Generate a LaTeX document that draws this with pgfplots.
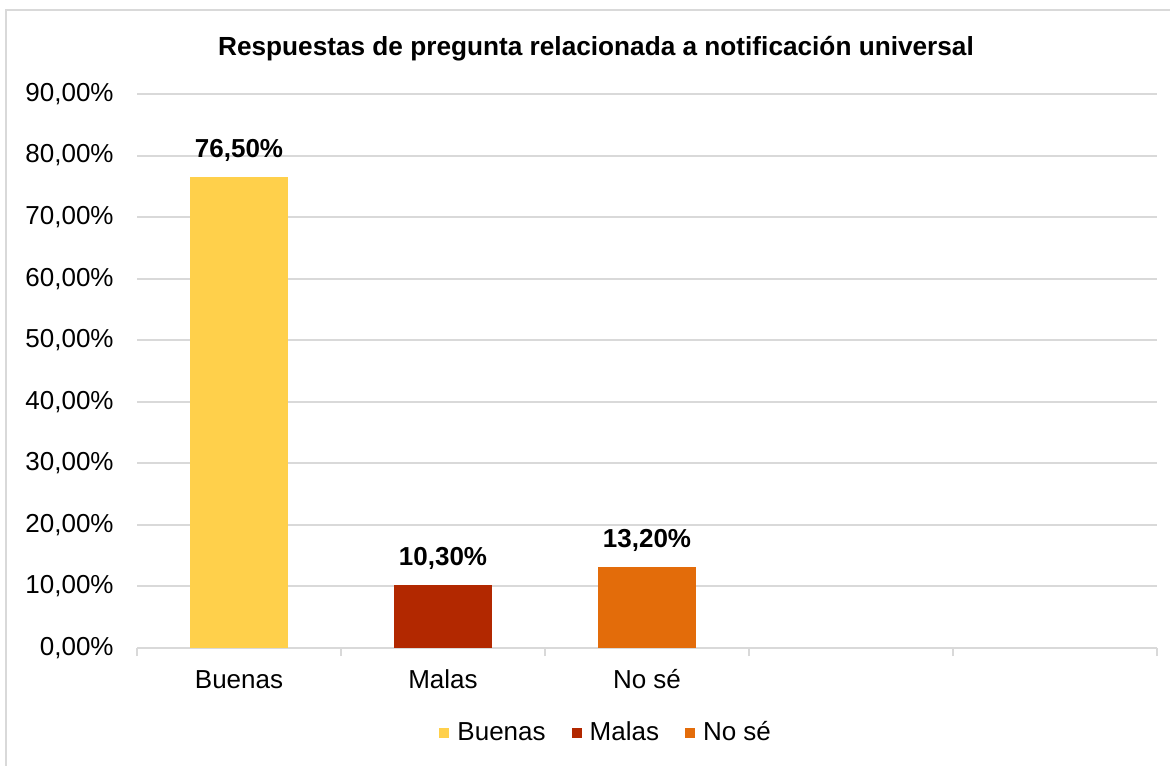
\documentclass[border=0pt]{standalone}
\usepackage{pgfplots}
\pgfplotsset{compat=1.18}
\usepackage{fontspec}
\setmainfont{Liberation Sans}
\definecolor{cB}{RGB}{255,208,75}
\definecolor{cM}{RGB}{178,40,0}
\definecolor{cN}{RGB}{227,108,10}
\definecolor{gr}{RGB}{217,217,217}
\begin{document}
\begin{tikzpicture}[font=\fontsize{13}{15.6}\selectfont]
\useasboundingbox (0,0) rectangle (585pt,-382.5pt);
\draw[gr, line width=1pt] (3pt,-400pt) -- (3pt,-5pt) -- (600pt,-5pt);
\node[font=\fontsize{13.1}{15.6}\selectfont\bfseries] at (298pt,-24.5pt) {Respuestas de pregunta relacionada a notificación universal};
\begin{axis}[
  at={(68.5pt,-324pt)}, anchor=south west,
  scale only axis, width=510pt, height=277pt,
  ybar, bar width=49pt, bar shift=0pt,
  xmin=-0.5, xmax=4.5, ymin=0, ymax=90,
  ytick={0,10,...,90},
  ymajorgrids, grid style={gr, line width=1pt},
  separate axis lines,
  axis x line*=bottom, axis y line*=left,
  x axis line style={draw=gr, line width=1pt, -},
  y axis line style={draw=none},
  xtick={-0.5,0.5,1.5,2.5,3.5,4.5}, xticklabels={},
  xtick style={draw=gr, line width=1pt},
  tick align=outside, major tick length=4pt,
  ytick style={draw=none},
  extra x ticks={0,1,2},
  extra x tick labels={Buenas,Malas,No sé},
  extra x tick style={major tick length=0pt, xticklabel style={anchor=base, inner sep=0pt, yshift=-20pt}},
  /pgf/number format/assume math mode=true,
  tick label style={font=\fontsize{13}{15.6}\selectfont},
  yticklabel={\pgfmathprintnumber[fixed,fixed zerofill,precision=2,use comma]{\tick}\%},
  yticklabel style={anchor=east, inner sep=0pt, xshift=-7.5pt},
  nodes near coords={\pgfmathprintnumber[fixed,fixed zerofill,precision=2,use comma]{\pgfplotspointmeta}\%},
  nodes near coords style={font=\fontsize{13}{15.6}\selectfont\bfseries, anchor=south, inner sep=0pt, yshift=7.5pt},
  legend style={at={(0.461,-0.153)}, anchor=center, draw=none, fill=none, legend columns=-1,
    font=\fontsize{13}{15.6}\selectfont,
    /tikz/every even column/.append style={column sep=11pt}},
  legend image code/.code={\fill[#1] (0pt,-2.5pt) rectangle (5pt,2.5pt); \path (7pt,0pt);},
]
\addplot[fill=cB, draw=none] coordinates {(0,76.5)};
\addplot[fill=cM, draw=none] coordinates {(1,10.3)};
\addplot[fill=cN, draw=none] coordinates {(2,13.2)};
\legend{Buenas, Malas, No sé}
\end{axis}
\end{tikzpicture}
\end{document}
